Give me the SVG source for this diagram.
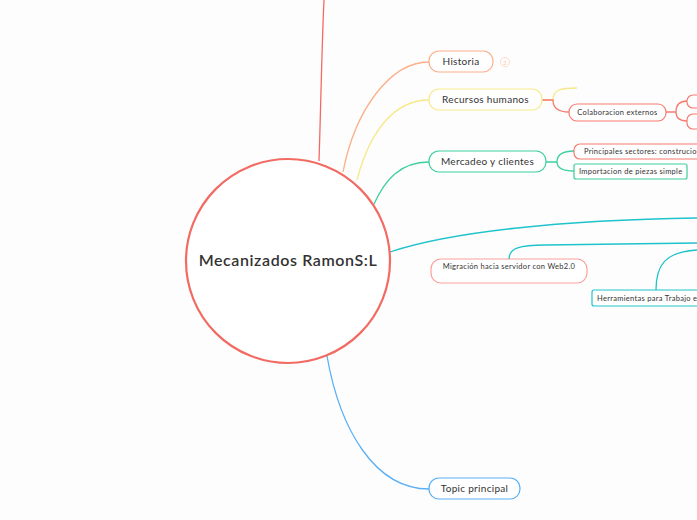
<svg xmlns="http://www.w3.org/2000/svg" width="697" height="520" viewBox="0 0 697 520">
<style>
text{font-family:"Lato","Liberation Sans",sans-serif;fill:#333;letter-spacing:0.3px}
.n{fill:#fff;stroke-width:1.2}
.c{fill:none;stroke-width:1.3}
.t1{font-size:10px}
.t2{font-size:7.5px}
</style>
<rect width="697" height="520" fill="#fdfdfd"/>
<g id="connectors">
<path class="c" d="M319,161 C321,100 322,40 324,0" stroke="#f26b63" stroke-width="1.6"/>
<path class="c" d="M343,172 C355,110 390,62 429,62" stroke="#fbb089"/>
<path class="c" d="M357,180 C370,130 395,100 429,100" stroke="#f7e98a"/>
<path class="c" d="M374,204 C385,180 400,162 429,162" stroke="#3dcf9f"/>
<path class="c" d="M390,252 C450,232 560,220 697,218" stroke="#1ec3cc" stroke-width="1.6"/>
<path class="c" d="M509,259 C509,248 520,245 545,245 L697,243" stroke="#1ec3cc"/>
<path class="c" d="M656,290 C656,265 665,252 697,250" stroke="#1ec3cc"/>
<path class="c" d="M327,356 C340,430 375,489 429,489" stroke="#5ab0f5" stroke-width="1.5"/>
<path class="c" d="M542,100 L553,100 C553,90 560,88 577,88" stroke="#f7e98a"/>
<path class="c" d="M542,100 L553,100 C553,108 558,112 569,112" stroke="#f87a70"/>
<path class="c" d="M666,112 L676,112 C676,104 680,101 687,101 M676,112 C676,118 680,121 687,121" stroke="#f87a70" stroke-width="1.6"/>
<path class="c" d="M546,162 L557,162 C557,155 562,151 574,151 M557,162 C557,168 562,171 574,171" stroke="#3dcf9f"/>
</g>
<g id="center"><circle cx="288" cy="261" r="102" fill="#fff" stroke="#f26b63" stroke-width="2.2"/><text x="288" y="266" font-size="16" text-anchor="middle" style="font-weight:600;letter-spacing:0.6px">Mecanizados RamonS:L</text></g>
<g id="historia"><rect class="n" x="429" y="51" width="64" height="21" rx="10" stroke="#fbb089"/><text class="t1" x="461" y="65" text-anchor="middle">Historia</text><circle cx="505" cy="62" r="4.5" fill="#fff" stroke="#fcd2bb" stroke-width="0.8"/><text x="505" y="64.5" font-size="6" text-anchor="middle" style="fill:#fcc3a3">2</text></g>
<g id="rrhh"><rect class="n" x="429" y="89" width="113" height="21" rx="10" stroke="#f7e98a"/><text class="t1" x="485.5" y="103" text-anchor="middle">Recursos humanos</text></g>
<g id="colab"><rect class="n" x="569" y="104" width="97" height="17" rx="8" stroke="#f87a70"/><text class="t2" x="617.5" y="115" text-anchor="middle">Colaboracion externos</text></g>
<g id="colab1"><rect class="n" x="687" y="95" width="30" height="13" rx="6" stroke="#f87a70"/></g>
<g id="colab2"><rect class="n" x="687" y="114" width="30" height="15" rx="6" stroke="#f87a70"/></g>
<g id="mercadeo"><rect class="n" x="429" y="151" width="117" height="21" rx="10" stroke="#3dcf9f"/><text class="t1" x="487.5" y="165" text-anchor="middle">Mercadeo y clientes</text></g>
<g id="sectores"><rect class="n" x="574" y="144" width="135" height="15" rx="6" stroke="#f87a70"/><text class="t2" x="584" y="154">Principales sectores: construcion</text></g>
<g id="importacion"><rect class="n" x="574" y="164" width="113" height="15" rx="2" stroke="#3dcf9f"/><text class="t2" x="579" y="174">Importacion de piezas simple</text></g>
<g id="migracion"><rect class="n" x="431" y="259" width="156" height="24" rx="10" stroke="#f87a70" stroke-opacity="0.7"/><text class="t2" x="509" y="269" text-anchor="middle">Migración hacia servidor con Web2.0</text></g>
<g id="herramientas"><rect class="n" x="592" y="290" width="115" height="16" rx="2" stroke="#1ec3cc"/><text class="t2" x="597" y="301">Herramientas para Trabajo e</text></g>
<g id="topic"><rect class="n" x="429" y="478" width="91" height="21" rx="10" stroke="#5ab0f5"/><text class="t1" x="474.5" y="492" text-anchor="middle">Topic principal</text></g>
</svg>
